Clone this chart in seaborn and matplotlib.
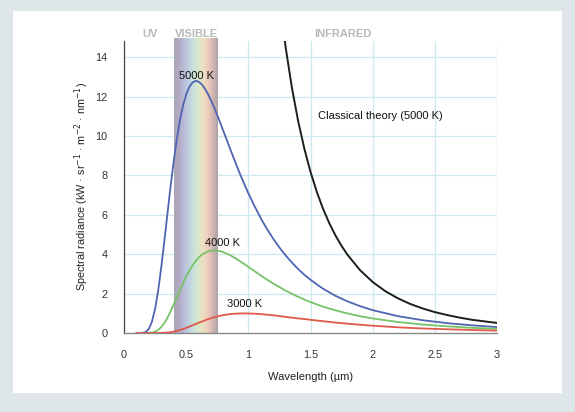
import matplotlib
matplotlib.use("Agg")
import matplotlib.pyplot as plt
import matplotlib.patches as mpatches
from matplotlib.colors import LinearSegmentedColormap
import numpy as np
import pandas as pd
import seaborn as sns

# Wavelength samples (µm) and spectral radiance (kW · sr⁻¹ · m⁻² · nm⁻¹)
wavelength = [0.100, 0.150, 0.175, 0.200, 0.225, 0.250, 0.275, 0.300, 0.325, 0.350,
              0.375, 0.400, 0.425, 0.450, 0.475, 0.500, 0.525, 0.550, 0.575, 0.600,
              0.625, 0.650, 0.675, 0.700, 0.725, 0.750, 0.775, 0.800, 0.825, 0.850,
              0.875, 0.900, 0.925, 0.950, 0.975, 1.000,
              1.05, 1.10, 1.15, 1.20, 1.25, 1.30, 1.35, 1.40, 1.45, 1.50,
              1.60, 1.70, 1.80, 1.90, 2.00, 2.20, 2.40, 2.60, 2.80, 3.00]
radiance_5000 = [0.00, 0.01, 0.05, 0.21, 0.58, 1.22, 2.16, 3.35, 4.69, 6.09,
                 7.47, 8.74, 9.86, 10.80, 11.55, 12.11, 12.49, 12.71, 12.80, 12.76,
                 12.63, 12.41, 12.14, 11.81, 11.45, 11.06, 10.66, 10.24, 9.83, 9.41,
                 9.00, 8.60, 8.20, 7.82, 7.45, 7.10,
                 6.44, 5.83, 5.28, 4.79, 4.34, 3.94, 3.58, 3.25, 2.96, 2.70,
                 2.25, 1.89, 1.60, 1.36, 1.16, 0.86, 0.65, 0.50, 0.39, 0.30]
radiance_4000 = [0.00, 0.00, 0.00, 0.01, 0.02, 0.07, 0.16, 0.30, 0.51, 0.78,
                 1.10, 1.45, 1.81, 2.18, 2.54, 2.87, 3.16, 3.42, 3.64, 3.83,
                 3.97, 4.07, 4.14, 4.18, 4.19, 4.18, 4.15, 4.10, 4.03, 3.96,
                 3.87, 3.78, 3.68, 3.57, 3.47, 3.36,
                 3.14, 2.92, 2.71, 2.51, 2.33, 2.15, 1.99, 1.84, 1.70, 1.57,
                 1.34, 1.15, 0.99, 0.85, 0.74, 0.56, 0.43, 0.34, 0.26, 0.21]
radiance_3000 = [0.00, 0.00, 0.00, 0.00, 0.00, 0.00, 0.00, 0.01, 0.01, 0.03,
                 0.04, 0.07, 0.11, 0.15, 0.20, 0.26, 0.32, 0.39, 0.45, 0.52,
                 0.58, 0.64, 0.70, 0.75, 0.80, 0.84, 0.88, 0.91, 0.93, 0.96,
                 0.97, 0.98, 0.99, 0.995, 0.995, 0.99,
                 0.98, 0.96, 0.93, 0.90, 0.86, 0.82, 0.78, 0.74, 0.71, 0.67,
                 0.60, 0.53, 0.47, 0.42, 0.37, 0.29, 0.23, 0.19, 0.15, 0.12]

# Rayleigh–Jeans (classical) prediction at 5000 K
wavelength_classical = [1.25, 1.30, 1.35, 1.40, 1.45, 1.50, 1.55, 1.60, 1.65, 1.70,
                        1.75, 1.80, 1.90, 2.00, 2.10, 2.20, 2.30, 2.40, 2.50, 2.60,
                        2.70, 2.80, 2.90, 3.00]
radiance_classical = [16.97, 14.51, 12.47, 10.78, 9.37, 8.18, 7.18, 6.32, 5.59, 4.96,
                      4.42, 3.95, 3.18, 2.59, 2.13, 1.77, 1.48, 1.25, 1.06, 0.91,
                      0.78, 0.67, 0.59, 0.51]

x_ticks = [0, 0.5, 1, 1.5, 2, 2.5, 3]
x_tick_labels = ["0", "0.5", "1", "1.5", "2", "2.5", "3"]
y_ticks = [0, 2, 4, 6, 8, 10, 12, 14]

series = ["5000 K", "4000 K", "3000 K"]
frames = []
for name, vals in zip(series, [radiance_5000, radiance_4000, radiance_3000]):
    frames.append(pd.DataFrame({"wavelength": wavelength, "radiance": vals, "T": name}))
df = pd.concat(frames, ignore_index=True)
df_classical = pd.DataFrame({"wavelength": wavelength_classical,
                             "radiance": radiance_classical})

sns.set_theme(style="white")
plt.rcParams["font.family"] = ["Liberation Sans", "DejaVu Sans"]

fig = plt.figure(figsize=(5.75, 4.12), dpi=100)
fig.patch.set_facecolor("#dfe6ea")
fig.add_artist(mpatches.Rectangle((13 / 575, 1 - 393 / 412), (562 - 13) / 575,
                                  (393 - 11) / 412, transform=fig.transFigure,
                                  facecolor="white", edgecolor="none", zorder=-1))

ax = fig.add_axes([124 / 575, 79 / 412, 373 / 575, 292.5 / 412])
ax.set_facecolor("white")

# light grid
for xv in x_ticks[1:]:
    ax.axvline(xv, color="#cfe7ef", lw=0.9, zorder=0)
for yv in y_ticks[1:]:
    ax.axhline(yv, color="#cfe7ef", lw=0.9, zorder=0)

# visible-light band
band_cmap = LinearSegmentedColormap.from_list("visible", [
    (0.00, "#a9a6b3"), (0.12, "#b3aac6"), (0.25, "#bcc2dd"), (0.40, "#c4dbe1"),
    (0.52, "#d3e7cd"), (0.64, "#ebe3c1"), (0.76, "#efcfbf"), (0.87, "#d8b8b4"),
    (1.00, "#aba3a8")])
grad = np.linspace(0, 1, 256).reshape(1, -1)
ax.imshow(grad, cmap=band_cmap, extent=(0.4, 0.75, 0, 14.95), aspect="auto",
          zorder=1, clip_on=False)

palette = {"5000 K": "#4f64b2", "4000 K": "#76c368", "3000 K": "#e05a4c"}
sns.lineplot(data=df, x="wavelength", y="radiance", hue="T", palette=palette,
             lw=1.3, legend=False, ax=ax, zorder=3, sort=False)
sns.lineplot(data=df_classical, x="wavelength", y="radiance", color="#1e1e1e",
             lw=1.4, ax=ax, zorder=3, sort=False)

ax.set_xlim(0, 3)
ax.set_ylim(0, 14.85)
ax.set_xticks(x_ticks)
ax.set_xticklabels(x_tick_labels)
ax.set_yticks(y_ticks)
ax.tick_params(axis="both", labelsize=7.8, colors="#333333", length=4,
               width=0.8, direction="out")
ax.tick_params(axis="x", pad=8)
ax.tick_params(axis="y", pad=8)

for side in ["top", "right"]:
    ax.spines[side].set_visible(False)
ax.spines["left"].set_color("#444444")
ax.spines["left"].set_linewidth(0.9)
ax.spines["bottom"].set_color("#888888")
ax.spines["bottom"].set_linewidth(1.0)

ax.set_xlabel("Wavelength (µm)", fontsize=8, color="#222222", labelpad=9)
ax.set_ylabel("Spectral radiance (kW · sr$^{-1}$ · m$^{-2}$ · nm$^{-1}$)",
              fontsize=7.8, color="#222222", labelpad=3)

# curve labels
ax.text(0.58, 13.05, "5000 K", fontsize=8, ha="center", va="center",
        color="#111111", zorder=4)
ax.text(0.79, 4.55, "4000 K", fontsize=8, ha="center", va="center",
        color="#111111", zorder=4)
ax.text(0.97, 1.45, "3000 K", fontsize=8, ha="center", va="center",
        color="#111111", zorder=4)
ax.text(1.56, 11.0, "Classical theory (5000 K)", fontsize=8, ha="left",
        va="center", color="#111111", zorder=4)

# spectral region labels
for xv, txt in [(0.21, "UV"), (0.58, "VISIBLE"), (1.76, "INFRARED")]:
    ax.text(xv, 15.18, txt, fontsize=8, ha="center", va="center",
            color="#b8b8b8", fontweight="bold", clip_on=False, zorder=4)

fig.savefig("out.png", dpi=100, facecolor=fig.get_facecolor())
